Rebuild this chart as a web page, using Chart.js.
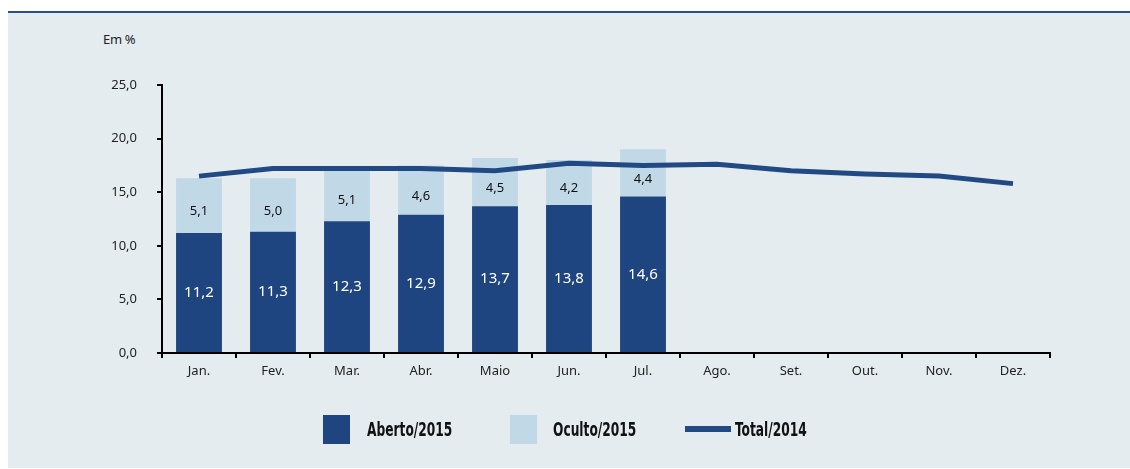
<!DOCTYPE html>
<html>
<head>
<meta charset="utf-8">
<script src="https://cdn.jsdelivr.net/npm/chart.js@4"></script>
<style>
  html, body { margin:0; padding:0; background:#fff; width:1130px; height:469px; overflow:hidden; }
  #bg { position:absolute; left:8px; top:13px; width:1122px; height:455px; background:#e4ecf0; }
  #topline { position:absolute; left:8px; top:11px; width:1122px; height:2px; background:#2c4f8a; }
  #wrap { position:absolute; left:0; top:0; width:1130px; height:469px; }
  #unit { position:absolute; left:103px; top:30px; font:13px "Noto Sans", sans-serif; color:#222; letter-spacing:-0.3px; }
  .lg { position:absolute; font-family:"Liberation Sans Narrow","DejaVu Sans Condensed",sans-serif; font-weight:bold; font-size:20px; color:#111; top:418px; line-height:22px; white-space:nowrap; transform:scaleX(0.68); transform-origin:0 50%; }
  .sw { position:absolute; }
</style>
</head>
<body>
<div id="bg"></div>
<div id="topline"></div>
<div id="unit">Em %</div>
<div id="wrap"><canvas id="c" width="1130" height="469"></canvas></div>
<div id="legend"></div>
<script>
const categories = ["Jan.", "Fev.", "Mar.", "Abr.", "Maio", "Jun.", "Jul.", "Ago.", "Set.", "Out.", "Nov.", "Dez."];
const aberto2015 = [11.2, 11.3, 12.3, 12.9, 13.7, 13.8, 14.6, null, null, null, null, null];
const oculto2015 = [5.1, 5.0, 5.1, 4.6, 4.5, 4.2, 4.4, null, null, null, null, null];
const total2014 = [16.5, 17.2, 17.2, 17.2, 17.0, 17.7, 17.5, 17.6, 17.0, 16.7, 16.5, 15.8];
const yTicks = [0, 5, 10, 15, 20, 25];
const seriesNames = ["Aberto/2015", "Oculto/2015", "Total/2014"];

const DARK = "#1f4580";
const LIGHT = "#c1d9e7";
const LINE = "#214a85";
const fmt = v => v.toFixed(1).replace(".", ",");

const labelPlugin = {
  id: "barLabels",
  afterDatasetsDraw(chart) {
    const ctx = chart.ctx;
    ctx.save();
    ctx.textAlign = "center";
    ctx.textBaseline = "middle";
    [0, 1].forEach(di => {
      const meta = chart.getDatasetMeta(di);
      const data = chart.data.datasets[di].data;
      meta.data.forEach((bar, i) => {
        const v = data[i];
        if (v == null) return;
        const mid = (bar.y + bar.base) / 2;
        if (di === 0) {
          ctx.fillStyle = "#ffffff";
          ctx.font = '15px "Noto Sans", sans-serif';
          ctx.fillText(fmt(v), bar.x, mid);
        } else {
          ctx.fillStyle = "#111111";
          ctx.font = '13px "Noto Sans", sans-serif';
          ctx.fillText(fmt(v), bar.x, mid + 6);
        }
      });
    });
    ctx.restore();
  }
};

const chart = new Chart(document.getElementById("c"), {
  data: {
    labels: categories,
    datasets: [
      { type: "bar", label: seriesNames[0], data: aberto2015, backgroundColor: DARK, stack: "s2015", order: 1,
        barPercentage: 0.62, categoryPercentage: 1.0 },
      { type: "bar", label: seriesNames[1], data: oculto2015, backgroundColor: LIGHT, stack: "s2015", order: 1,
        barPercentage: 0.62, categoryPercentage: 1.0 },
      { type: "line", label: seriesNames[2], data: total2014, borderColor: LINE, borderWidth: 5, pointRadius: 0,
        tension: 0, stack: "t2014", order: 0, fill: false, borderCapStyle: "butt" }
    ]
  },
  options: {
    responsive: false,
    devicePixelRatio: 1,
    animation: false,
    layout: { padding: { left: 0, top: 85, right: 80, bottom: 0 } },
    plugins: { legend: { display: false }, tooltip: { enabled: false } },
    scales: {
      x: {
        stacked: true,
        afterFit: s => { s.height = 116; },
        border: { color: "#000", width: 2 },
        grid: { display: true, drawOnChartArea: false, offset: true, tickLength: 5, color: "#000", lineWidth: 2 },
        ticks: { color: "#222", font: { family: "Noto Sans", size: 13 }, padding: 5, maxRotation: 0 }
      },
      y: {
        stacked: true,
        min: 0, max: 25,
        afterFit: s => { s.width = 162; },
        afterBuildTicks: s => { s.ticks = yTicks.map(v => ({ value: v })); },
        border: { color: "#000", width: 2 },
        grid: { display: true, drawOnChartArea: false, tickLength: 5, color: "#000", lineWidth: 2 },
        ticks: { color: "#222", font: { family: "Noto Sans", size: 13 }, padding: 20, callback: v => fmt(v) }
      }
    }
  },
  plugins: [labelPlugin]
});

// HTML legend built from dataset labels/colors
const lg = document.getElementById("legend");
const items = [
  { name: seriesNames[0], kind: "box", color: DARK, sx: 323, tx: 367 },
  { name: seriesNames[1], kind: "box", color: LIGHT, sx: 510, tx: 553 },
  { name: seriesNames[2], kind: "line", color: LINE, sx: 685, tx: 735 }
];
items.forEach(it => {
  const sw = document.createElement("div");
  sw.className = "sw";
  if (it.kind === "box") {
    Object.assign(sw.style, { left: it.sx + "px", top: "415px", width: "27px", height: "29px", background: it.color });
  } else {
    Object.assign(sw.style, { left: it.sx + "px", top: "426px", width: "46px", height: "6px", background: it.color });
  }
  lg.appendChild(sw);
  const t = document.createElement("div");
  t.className = "lg";
  t.style.left = it.tx + "px";
  t.textContent = it.name;
  lg.appendChild(t);
});
</script>
</body>
</html>
